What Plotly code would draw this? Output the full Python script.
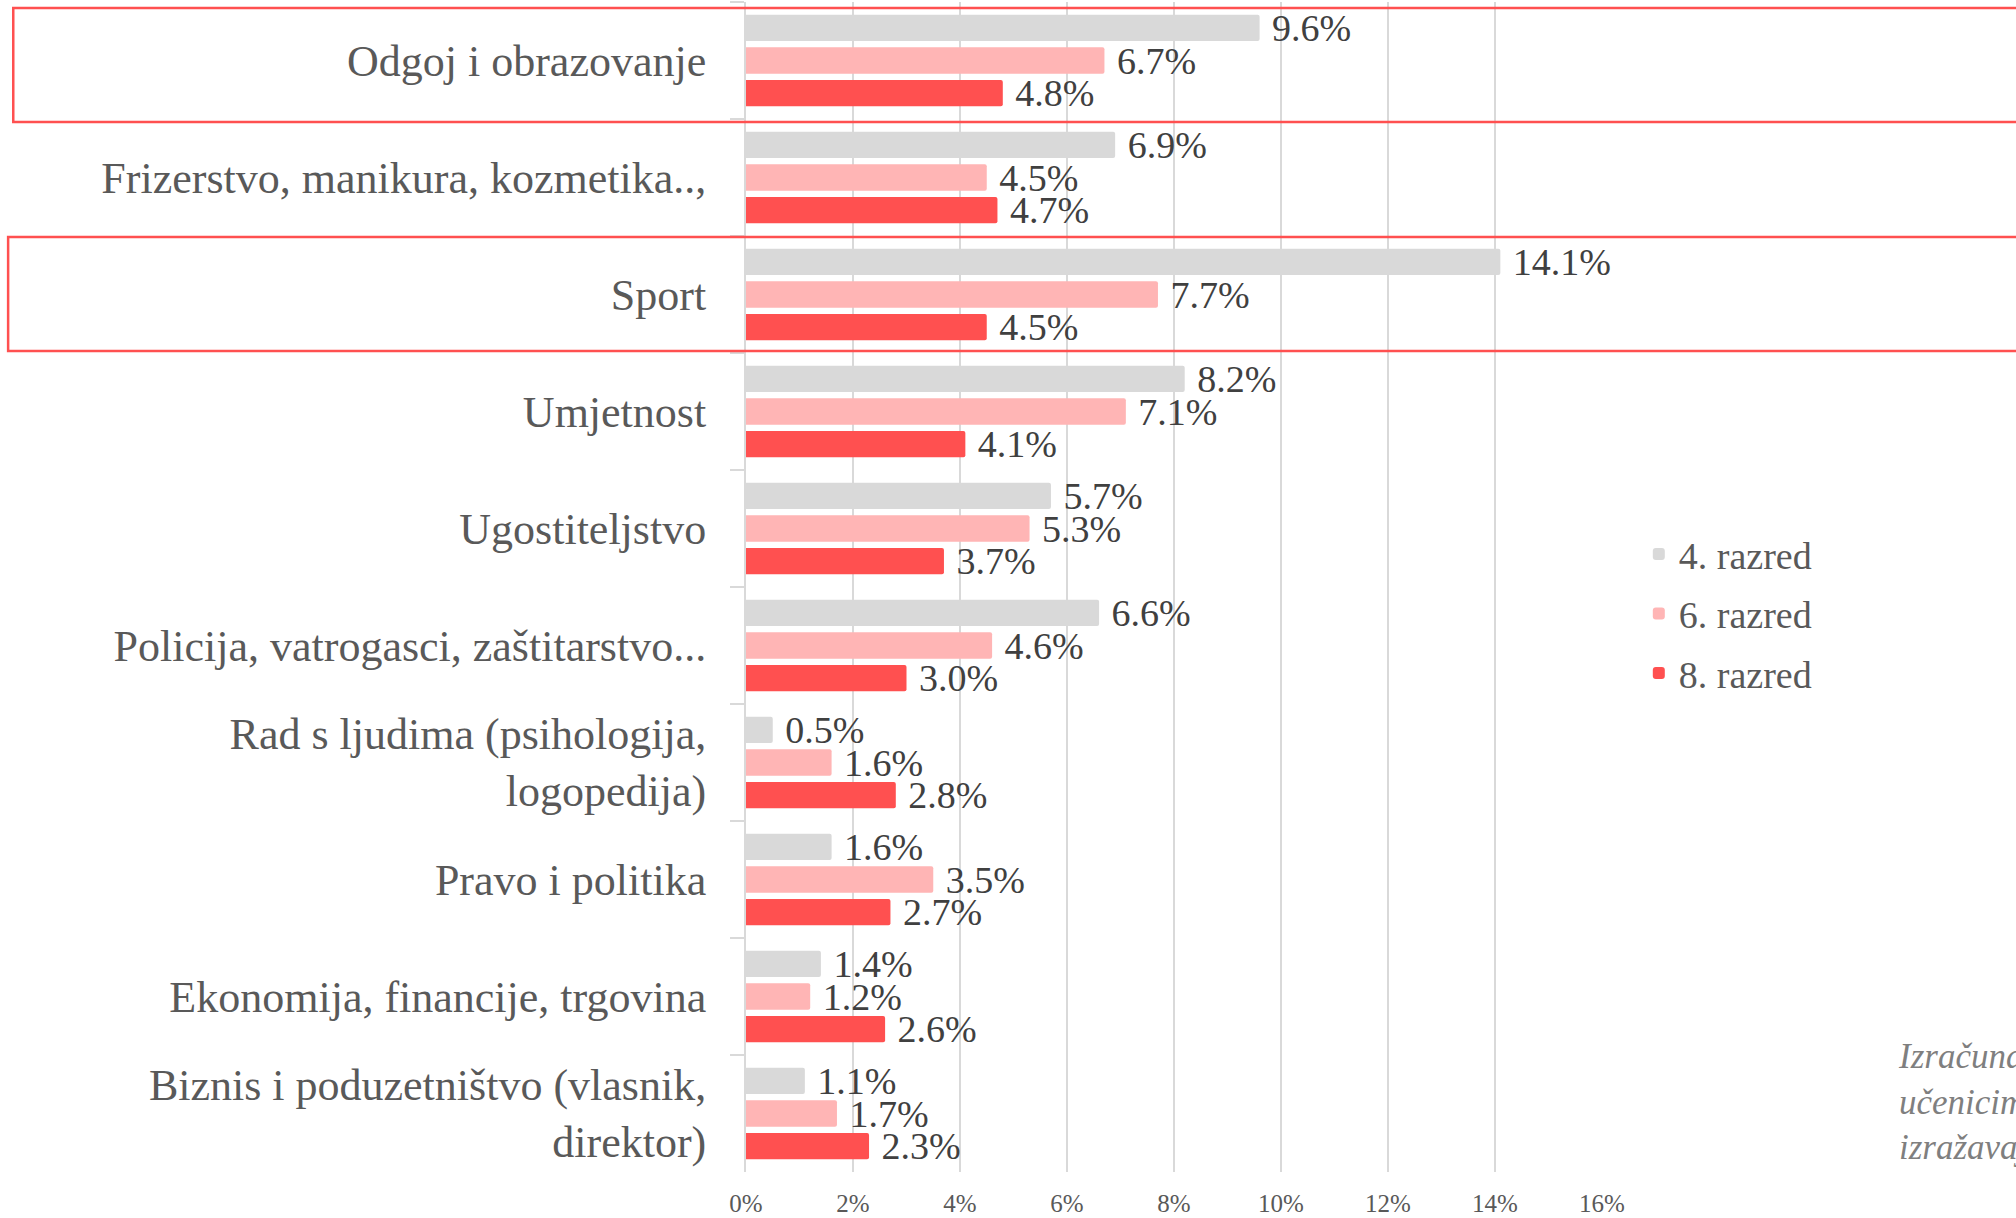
import plotly.graph_objects as go

categories = [
    "Odgoj i obrazovanje",
    "Frizerstvo, manikura, kozmetika..,",
    "Sport",
    "Umjetnost",
    "Ugostiteljstvo",
    "Policija, vatrogasci, zaštitarstvo...",
    "Rad s ljudima (psihologija,<br>logopedija)",
    "Pravo i politika",
    "Ekonomija, financije, trgovina",
    "Biznis i poduzetništvo (vlasnik,<br>direktor)",
]
series_names = ["4. razred", "6. razred", "8. razred"]
razred4 = [9.6, 6.9, 14.1, 8.2, 5.7, 6.6, 0.5, 1.6, 1.4, 1.1]
razred6 = [6.7, 4.5, 7.7, 7.1, 5.3, 4.6, 1.6, 3.5, 1.2, 1.7]
razred8 = [4.8, 4.7, 4.5, 4.1, 3.7, 3.0, 2.8, 2.7, 2.6, 2.3]
colors = ["#D9D9D9", "#FFB5B5", "#FF5050"]
x_ticks = [0, 2, 4, 6, 8, 10, 12, 14, 16]
x_tick_labels = ["0%", "2%", "4%", "6%", "8%", "10%", "12%", "14%", "16%"]
highlighted = ["Odgoj i obrazovanje", "Sport"]
note_text = "Izračunato na ukupnom broju<br>učenicima koji su odgovorili,<br>izražavajući se u postocima"

SERIF = "Liberation Serif, DejaVu Serif, serif"

fig = go.Figure()
for name, vals, col in zip(series_names, [razred4, razred6, razred8], colors):
    fig.add_trace(go.Bar(
        y=categories, x=vals, name=name, orientation="h",
        marker=dict(color=col, line=dict(width=0), cornerradius=2),
        text=vals, texttemplate=" %{x:.1f}%", textposition="outside",
        outsidetextfont=dict(family=SERIF, size=38, color="#404040"),
        constraintext="none", cliponaxis=False,
        legendgroup=name, hoverinfo="skip",
    ))

# highlight frames: (left edge in paper units, top offset, bottom offset in category units)
frame_style = {
    "Odgoj i obrazovanje": (-0.856, -0.449, 0.526),
    "Sport": (-0.862, -0.491, 0.483),
}
shapes = []
for cat in highlighted:
    i = categories.index(cat)
    x0, dy0, dy1 = frame_style[cat]
    shapes.append(dict(
        type="rect", xref="paper", yref="y",
        x0=x0, x1=1.6, y0=i + dy0, y1=i + dy1,
        line=dict(color="#FF5050", width=2.5), fillcolor="rgba(0,0,0,0)",
        layer="above",
    ))

fig.update_layout(
    width=2016, height=1218,
    margin=dict(l=746, r=414, t=2, b=46, pad=0),
    paper_bgcolor="white", plot_bgcolor="white",
    barmode="group", bargap=0.163, bargroupgap=0.19,
    font=dict(family=SERIF, color="#595959"),
    showlegend=True,
    legend=dict(
        x=1.043, xanchor="left", y=0.477, yanchor="middle",
        font=dict(family=SERIF, size=38, color="#595959"),
        traceorder="grouped", tracegroupgap=7,
        bgcolor="rgba(0,0,0,0)",
    ),
    xaxis=dict(
        range=[0, 16], tickvals=x_ticks, ticktext=x_tick_labels,
        showgrid=True, gridcolor="#D9D9D9", gridwidth=2,
        showline=False, zeroline=False, ticks="",
        tickfont=dict(family=SERIF, size=25, color="#595959"),
        ticklabelstandoff=14,
    ),
    yaxis=dict(
        autorange="reversed", type="category",
        showline=True, linecolor="#D9D9D9", linewidth=2,
        ticks="outside", tickson="boundaries", ticklen=14,
        tickcolor="#D9D9D9", tickwidth=2,
        tickfont=dict(family=SERIF, size=44, color="#595959"),
        ticklabelstandoff=29, showgrid=False,
    ),
    shapes=shapes,
    annotations=[dict(
        text=note_text, xref="paper", yref="paper",
        x=1.3435, y=0.06, xanchor="left", yanchor="middle",
        align="left", showarrow=False,
        font=dict(family=SERIF, size=35, color="#7F7F7F", style="italic"),
    )],
)

fig.write_html(
    "out.html",
    config={"displayModeBar": False},
    post_script="document.body.style.margin='0';document.body.style.overflow='hidden';",
)
